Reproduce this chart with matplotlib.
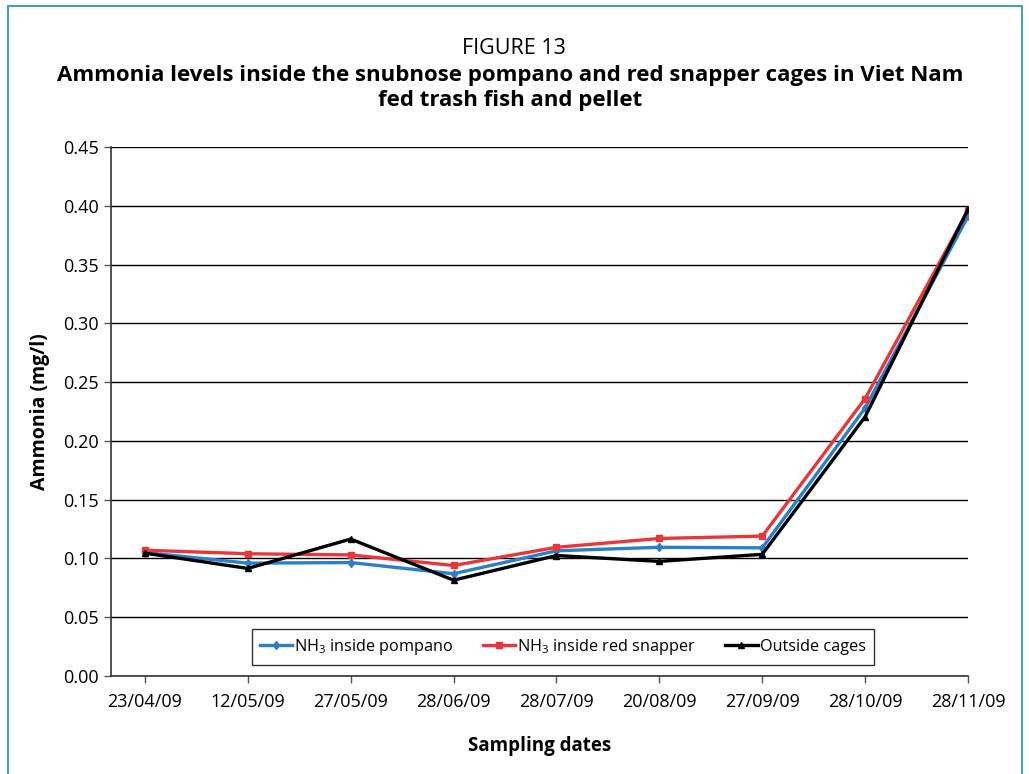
import matplotlib
matplotlib.use("Agg")
import matplotlib.pyplot as plt
from matplotlib.patches import Rectangle

plt.rcParams['font.family'] = ['Open Sans', 'DejaVu Sans']
plt.rcParams['mathtext.default'] = 'regular'

# sampling dates and ammonia readings (mg/l)
dates = ["23/04/09", "12/05/09", "27/05/09", "28/06/09", "28/07/09",
         "20/08/09", "27/09/09", "28/10/09", "28/11/09"]
pompano = [0.105, 0.096, 0.0965, 0.087, 0.1065, 0.1095, 0.109, 0.228, 0.391]
snapper = [0.107, 0.104, 0.103, 0.094, 0.1095, 0.117, 0.119, 0.236, 0.396]
outside = [0.1045, 0.0915, 0.1165, 0.0815, 0.1025, 0.0975, 0.1035, 0.2205, 0.397]

fig = plt.figure(figsize=(10.29, 7.74), dpi=100)
W, H = 1029, 774
ax = fig.add_axes([111 / W, 1 - 676 / H, (968 - 111) / W, (676 - 147) / H])

x = range(len(dates))
ax.plot(x, pompano, color="#2a7fc9", lw=2.4, marker="d", ms=4.5,
        label=r"NH$_3$ inside pompano")
ax.plot(x, snapper, color="#e8373a", lw=2.4, marker="s", ms=4.5,
        label=r"NH$_3$ inside red snapper")
ax.plot(x, outside, color="black", lw=2.4, marker="^", ms=4.5,
        label="Outside cages")

ax.set_xlim(-0.33, 8.0)
ax.set_ylim(0, 0.45)
ax.set_yticks([i * 0.05 for i in range(10)])
ax.set_yticklabels([f"{i * 0.05:.2f}" for i in range(10)])
ax.set_xticks(list(x))
ax.set_xticklabels(dates)
ax.tick_params(axis="both", labelsize=13, length=5, width=1, color="#555555")
ax.tick_params(axis="x", pad=7)
ax.grid(axis="y", color="black", lw=1)
ax.set_axisbelow(True)
for s in ["top", "right"]:
    ax.spines[s].set_visible(False)
for s in ["left", "bottom"]:
    ax.spines[s].set_linewidth(1.2)
    ax.spines[s].set_color("#333333")

ax.set_ylabel("Ammonia (mg/l)", fontsize=14, fontweight="bold")
ax.yaxis.set_label_coords(-0.071, 0.5)
ax.set_xlabel("Sampling dates", fontsize=13.5, fontweight="bold", labelpad=18)

leg = ax.legend(loc="lower center", bbox_to_anchor=(0.527, 0.021), ncol=3,
                fontsize=11.7, frameon=True, fancybox=False, handlelength=2.0,
                handletextpad=0.12, columnspacing=1.8, borderpad=0.5,
                borderaxespad=0)
leg.get_frame().set_edgecolor("black")
leg.get_frame().set_linewidth(1)

fig.text(514 / W, 1 - 49 / H, "FIGURE 13", ha="center", va="center", fontsize=15.5)
fig.text(510 / W, 1 - 88 / H,
         "Ammonia levels inside the snubnose pompano and red snapper cages in Viet Nam\nfed trash fish and pellet",
         ha="center", va="center", fontsize=16, fontweight="bold", linespacing=1.3)

# teal frame around the figure
fig.patches.append(Rectangle((8 / W, -0.05), (1022 - 8) / W, 1.05 - 6 / H,
                             transform=fig.transFigure, fill=False,
                             edgecolor="#2aa096", lw=1.3))

fig.savefig("out.png", dpi=100)
